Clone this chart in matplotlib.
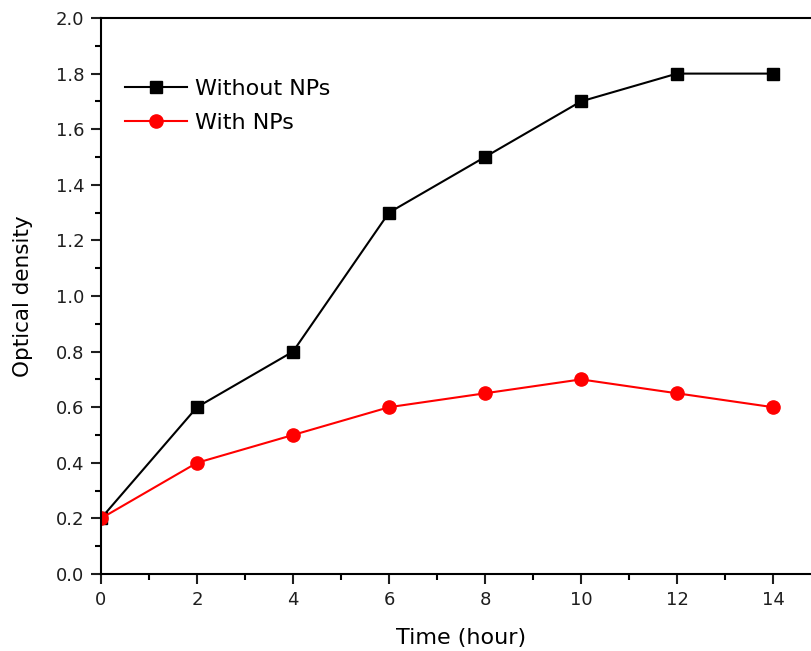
import matplotlib.pyplot as plt
from matplotlib.ticker import MultipleLocator

time_h = [0, 2, 4, 6, 8, 10, 12, 14]
without_nps = [0.2, 0.6, 0.8, 1.3, 1.5, 1.7, 1.8, 1.8]
with_nps = [0.2, 0.4, 0.5, 0.6, 0.65, 0.7, 0.65, 0.6]

fig = plt.figure(figsize=(8.11, 6.51), dpi=100)
# right spine falls outside the picture, as in the original crop
ax = fig.add_axes([101 / 811, 77 / 651, 720 / 811, 556 / 651])

ax.plot(time_h, without_nps, color='black', marker='s', markersize=8, lw=1.5, label='Without NPs')
ax.plot(time_h, with_nps, color='red', marker='o', markersize=9.5, lw=1.5, label='With NPs')

ax.set_xlim(0, 15)
ax.set_ylim(0, 2.0)
ax.xaxis.set_major_locator(MultipleLocator(2))
ax.xaxis.set_minor_locator(MultipleLocator(1))
ax.yaxis.set_major_locator(MultipleLocator(0.2))
ax.yaxis.set_minor_locator(MultipleLocator(0.1))
ax.yaxis.set_major_formatter(plt.FormatStrFormatter('%.1f'))
ax.tick_params(which='major', direction='out', length=7, width=1.5, labelsize=13,
               colors='#1e1e1e', pad=5)
ax.tick_params(which='minor', direction='out', length=4, width=1.5)
for s in ax.spines.values():
    s.set_linewidth(1.5)

ax.set_xlabel('Time (hour)', fontsize=16, labelpad=14)
ax.set_ylabel('Optical density', fontsize=15.5, labelpad=16)

ax.legend(loc='upper left', bbox_to_anchor=(0.033, 0.89), frameon=False, fontsize=16,
          borderpad=0, borderaxespad=0,
          handlelength=2.8, handletextpad=0.35, labelspacing=0.62)

fig.savefig('out.png', dpi=100)
